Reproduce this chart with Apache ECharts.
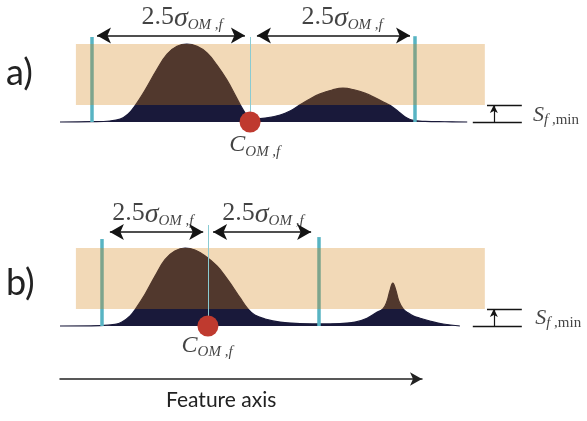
<!DOCTYPE html>
<html><head><meta charset="utf-8">
<script src="https://cdn.jsdelivr.net/npm/echarts@6/dist/echarts.min.js"></script>
<style>html,body{margin:0;padding:0;background:#fff}#c{width:587px;height:421px}</style>
</head><body><div id="c"></div>
<script>
// ---- data (feature axis units, intensity relative to band top) ----
const curveA = [[0,0],[7.4,0.004],[11.6,0.013],[14.0,0.038],[15.8,0.10],[17.4,0.205],[19.8,0.41],[22.6,0.68],[24.9,0.87],[27.2,0.97],[29.5,1.0],[31.9,0.97],[34.2,0.885],[36.5,0.73],[38.8,0.54],[40.7,0.35],[42.6,0.155],[44.2,0.05],[45.3,0.04],[47.7,0.05],[51.2,0.09],[53.5,0.14],[55.8,0.22],[58.1,0.295],[60.5,0.36],[63.3,0.41],[65.8,0.435],[68.6,0.41],[70.9,0.37],[73.3,0.31],[75.6,0.245],[77.4,0.19],[79.1,0.115],[80.7,0.05],[82.1,0.02],[84.9,0.008],[89.5,0.003],[94.7,0]];
const curveB = [[0,0],[9.3,0.004],[12.8,0.02],[14.4,0.05],[16.3,0.13],[17.4,0.205],[19.8,0.41],[22.1,0.64],[24.4,0.85],[26.7,0.96],[29.1,1.0],[31.4,0.975],[33.7,0.90],[36.5,0.77],[38.4,0.64],[40.2,0.50],[41.9,0.36],[43.7,0.22],[45.3,0.14],[47.7,0.09],[51.2,0.05],[55.8,0.032],[60.5,0.026],[65.1,0.032],[68.6,0.05],[71.4,0.10],[73.5,0.17],[75.1,0.22],[76.0,0.31],[76.7,0.45],[77.4,0.55],[78.1,0.46],[78.8,0.32],[79.8,0.22],[80.9,0.17],[82.1,0.13],[83.7,0.10],[86.0,0.064],[89.1,0.026],[93.0,0]];
const thresholdLevel = 0.218;     // S_f,min
const bandTop = 1.0;
const bandRange = [3.7, 98.8];
const windowA = [7.4, 82.6], windowTopA = [1.09, 1.10], centerA = 44.2, centerTopA = 1.09;
const windowB = [9.8, 60.2], windowTopB = [1.115, 1.14], centerB = 34.4, centerTopB = 1.295;
const arrowsA = {y: 1.11, left: [8.6, 43.0], right: [45.8, 81.4]};
const arrowsB = {y: 1.205, left: [11.6, 33.3], right: [35.6, 58.4]};
const sigmaLabelsA = [[28.4, 1.33], [65.6, 1.33]];
const sigmaLabelsB = [[21.6, 1.43], [47.2, 1.43]];
const cLabelA = [45.3, -0.31], cLabelB = [34.2, -0.27];
const sLabelA = [110.0, 0.08], sLabelB = [110.5, 0.09];
const thrMark = {upper: [99.3, 107.4], lower: [96.0, 107.4], arrowX: 100.9};

// ---- styles ----
const NAVY = '#19193a', BAND = 'rgba(212,128,18,0.30)', CYAN = '#58b4c3', THIN = '#8acbd2', RED = '#bf3a2f', INK = '#141414';
const SERIF = 'Liberation Serif';
const rich = {
  n: {fontFamily: SERIF, fontSize: 26, color: INK, lineHeight: 28, verticalAlign: 'top', padding: [0,0,4,0]},
  g: {fontFamily: SERIF, fontStyle: 'italic', fontSize: 28, color: INK, lineHeight: 28, verticalAlign: 'top', padding: [0,0,4,0]},
  c: {fontFamily: SERIF, fontStyle: 'italic', fontSize: 24, color: INK, lineHeight: 26, verticalAlign: 'top', padding: [0,0,4,0]},
  s: {fontFamily: SERIF, fontStyle: 'italic', fontSize: 22, color: INK, lineHeight: 24, verticalAlign: 'top', padding: [0,0,4,0]},
  sub: {fontFamily: SERIF, fontStyle: 'italic', fontSize: 15, color: INK, lineHeight: 16, verticalAlign: 'bottom'},
  subr: {fontFamily: SERIF, fontSize: 15, color: INK, lineHeight: 16, verticalAlign: 'bottom'}
};
const sigmaText = '{n|2.5}{g|σ}{sub|OM ,f}';
const cText = '{c|C}{sub|OM ,f}';
const sText = '{s|S}{sub|f }{subr|,min}';

function vline(x, y0, y1) { return [{coord: [x, y0]}, {coord: [x, y1]}]; }
function hline(x0, x1, y) { return [{coord: [x0, y]}, {coord: [x1, y]}]; }

function panel(i, curve, win, winTop, center, centerTop, arrows, sigLabels, cLab, sLab) {
  const ax = {xAxisIndex: i, yAxisIndex: i};
  return [
    Object.assign({type: 'line', name: 'curve' + i, data: curve, smooth: 0.4, symbol: 'none', clip: false, z: 2,
      lineStyle: {color: NAVY, width: 1.2}, areaStyle: {color: NAVY, opacity: 1}, silent: true, animation: false}, ax),
    Object.assign({type: 'line', data: [], z: 3, silent: true, animation: false,
      markLine: {z: 3, silent: true, animation: false, symbol: 'none', label: {show: false},
        lineStyle: {color: CYAN, width: 3.5, type: 'solid'},
        data: [vline(win[0], 0, winTop[0]), vline(win[1], 0, winTop[1])]}}, ax),
    Object.assign({type: 'line', data: [], z: 4, silent: true, animation: false,
      markArea: {z: 4, silent: true, animation: false, itemStyle: {color: BAND}, label: {show: false},
        data: [[{coord: [bandRange[0], thresholdLevel]}, {coord: [bandRange[1], bandTop]}]]}}, ax),
    Object.assign({type: 'line', data: [], z: 5, silent: true, animation: false,
      markLine: {z: 5, silent: true, animation: false, symbol: 'none', label: {show: false},
        lineStyle: {color: THIN, width: 1, type: 'solid'},
        data: [vline(center, 0, centerTop)]}}, ax),
    Object.assign({type: 'line', data: [], z: 5, silent: true, animation: false,
      markLine: {z: 5, silent: true, animation: false, symbol: ['arrow', 'arrow'], symbolSize: [12, 14], label: {show: false},
        lineStyle: {color: INK, width: 1.5, type: 'solid'},
        data: [hline(arrows.left[0], arrows.left[1], arrows.y), hline(arrows.right[0], arrows.right[1], arrows.y)]}}, ax),
    Object.assign({type: 'line', data: [], z: 5, silent: true, animation: false,
      markLine: {z: 5, silent: true, animation: false, symbol: 'none', label: {show: false},
        lineStyle: {color: INK, width: 1.3, type: 'solid'},
        data: [hline(thrMark.upper[0], thrMark.upper[1], thresholdLevel), hline(thrMark.lower[0], thrMark.lower[1], 0)]}}, ax),
    Object.assign({type: 'line', data: [], z: 5, silent: true, animation: false,
      markLine: {z: 5, silent: true, animation: false, symbol: ['none', 'arrow'], symbolSize: [6, 8], label: {show: false},
        lineStyle: {color: INK, width: 1.2, type: 'solid'},
        data: [vline(thrMark.arrowX, 0, thresholdLevel)]}}, ax),
    Object.assign({type: 'scatter', data: [[center, 0]], symbolSize: 21, z: 6, clip: false, silent: true, animation: false,
      itemStyle: {color: RED, opacity: 1}}, ax),
    Object.assign({type: 'scatter', z: 7, clip: false, silent: true, animation: false, symbolSize: 0,
      itemStyle: {color: 'rgba(0,0,0,0)'},
      label: {show: true, position: 'inside', color: INK, rich: rich},
      data: [
        {value: sigLabels[0], label: {formatter: sigmaText}},
        {value: sigLabels[1], label: {formatter: sigmaText}},
        {value: cLab, label: {formatter: cText}},
        {value: sLab, label: {formatter: sText, align: 'left'}}
      ]}, ax)
  ];
}

const chart = echarts.init(document.getElementById('c'), null, {renderer: 'canvas'});
const hiddenX = (g) => ({type: 'value', gridIndex: g, min: 0, max: 120, show: false});
const hiddenY = (g) => ({type: 'value', gridIndex: g, min: -0.5, max: 1.5, show: false});
const labelFont = {fontFamily: 'Lato', fontWeight: 'normal', color: '#222'};
chart.setOption({
  animation: false,
  backgroundColor: '#fff',
  title: [
    {text: 'a)', left: 6, top: 55, padding: 0, textStyle: Object.assign({fontSize: 36}, labelFont)},
    {text: 'b)', left: 6, top: 265, padding: 0, textStyle: Object.assign({fontSize: 36}, labelFont)},
    {text: 'Feature axis', left: 166, top: 390, padding: 0, textStyle: Object.assign({fontSize: 21}, labelFont)}
  ],
  grid: [
    {left: 60, top: 5, width: 516, height: 156},
    {left: 60, top: 209, width: 516, height: 156},
    {left: 60, top: 378, width: 362, height: 1}
  ],
  xAxis: [hiddenX(0), hiddenX(1),
    {type: 'value', gridIndex: 2, min: 0, max: 1, axisLine: {show: true, symbol: ['none', 'arrow'], symbolSize: [10, 12], lineStyle: {color: '#222', width: 1.5}},
      axisTick: {show: false}, axisLabel: {show: false}, splitLine: {show: false}}],
  yAxis: [hiddenY(0), hiddenY(1), {type: 'value', gridIndex: 2, show: false, min: 0, max: 1}],
  series: [].concat(
    panel(0, curveA, windowA, windowTopA, centerA, centerTopA, arrowsA, sigmaLabelsA, cLabelA, sLabelA),
    panel(1, curveB, windowB, windowTopB, centerB, centerTopB, arrowsB, sigmaLabelsB, cLabelB, sLabelB),
    [{type: 'line', data: [], xAxisIndex: 2, yAxisIndex: 2}]
  )
});
</script>
</body></html>
